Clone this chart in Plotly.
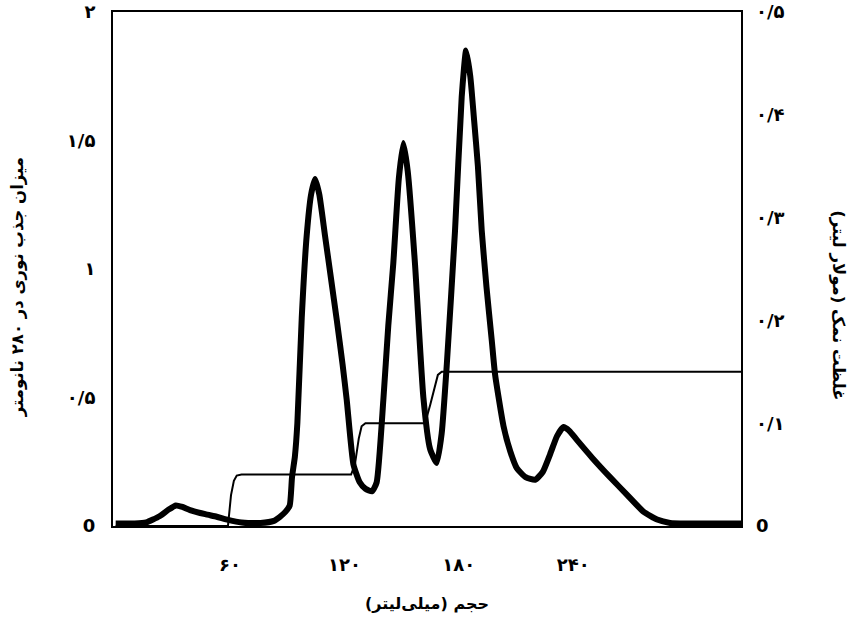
import plotly.graph_objects as go

# Absorbance at 280 nm (left axis) vs eluted volume (ml)
volume_ml = [0, 10, 16, 23, 28, 31.6, 35, 39, 47, 53, 59, 66, 76, 83, 86, 89, 91.3, 92.5, 94, 95.3,
             97.6, 100.2, 102.5, 104.6, 106.8, 109.8, 113, 116, 119, 121.2, 124.7, 128, 131, 134.5,
             136.9, 140.4, 143, 145.6, 148.5, 150.9, 153.2, 157, 161.4, 164.9, 168.4, 171, 173.7, 178,
             181.5, 183.8, 186, 188, 190, 192, 194.5, 197.3, 199, 203.4, 207, 210.4, 215, 220, 224,
             227.9, 231.5, 234.9, 238, 241.9, 250, 259.3, 268, 276.8, 284, 290.8, 300, 310, 328]
absorbance = [0.01, 0.01, 0.014, 0.038, 0.065, 0.08, 0.074, 0.062, 0.046, 0.036, 0.024, 0.014, 0.012,
              0.02, 0.035, 0.055, 0.08, 0.19, 0.27, 0.40, 0.81, 1.13, 1.29, 1.35, 1.29, 1.13, 0.96, 0.80,
              0.63, 0.49, 0.24, 0.17, 0.145, 0.135, 0.17, 0.49, 0.78, 1.02, 1.35, 1.49, 1.38, 1.02, 0.50,
              0.30, 0.245, 0.36, 0.63, 1.15, 1.67, 1.85, 1.75, 1.58, 1.40, 1.15, 0.93, 0.72, 0.59, 0.39,
              0.29, 0.225, 0.19, 0.18, 0.21, 0.28, 0.35, 0.385, 0.37, 0.335, 0.265, 0.19, 0.123, 0.056, 0.025,
              0.012, 0.01, 0.01, 0.01]

# Salt concentration (right axis), stepwise gradient
salt_volume_ml = [0, 58.9, 60.5, 62, 63.5, 66, 123.5, 125.5, 127.5, 129, 131, 162.3, 165, 167.5, 169, 171, 328]
salt_molar = [0, 0, 0.03, 0.044, 0.049, 0.05, 0.05, 0.06, 0.085, 0.097, 0.1, 0.1, 0.118, 0.138, 0.147, 0.15, 0.15]

x_tickvals = [60, 120, 180, 240]
x_ticktext = ['۶۰', '۱۲۰', '۱۸۰', '۲۴۰']
y_tickvals = [0, 0.5, 1, 1.5, 2]
y_ticktext = ['0', '۰/۵', '۱', '۱/۵', '۲']
y2_tickvals = [0, 0.1, 0.2, 0.3, 0.4, 0.5]
y2_ticktext = ['0', '۰/۱', '۰/۲', '۰/۳', '۰/۴', '۰/۵']

x_title = 'حجم (میلی‌لیتر)'
y_title = 'میزان جذب نوری در ۲۸۰ نانومتر'
y2_title = 'غلظت نمک (مولار لیتر)'

FONT = 'DejaVu Sans'

fig = go.Figure()
fig.add_trace(go.Scatter(x=volume_ml, y=absorbance, mode='lines',
                         line=dict(color='black', width=6, shape='spline', smoothing=0.5),
                         showlegend=False, hoverinfo='x+y'))
fig.add_trace(go.Scatter(x=salt_volume_ml, y=salt_molar, mode='lines', yaxis='y2',
                         line=dict(color='black', width=2),
                         showlegend=False, hoverinfo='x+y'))

fig.update_layout(
    width=855, height=621,
    paper_bgcolor='white', plot_bgcolor='white',
    margin=dict(l=113, r=114, t=12, b=95, autoexpand=False),
    font=dict(family=FONT, color='black', size=15),
    xaxis=dict(range=[-1.4, 328], tickvals=x_tickvals, ticktext=x_ticktext, automargin=False,
               showgrid=False, zeroline=False, showline=True, linecolor='black', linewidth=2,
               mirror=True, ticks='', ticklabelstandoff=21, ticklabeloverflow='allow',
               tickfont=dict(family=FONT, size=18, weight='bold'),
               title=dict(text=x_title, font=dict(family=FONT, size=16, weight='bold'), standoff=24)),
    yaxis=dict(range=[0, 2], tickvals=y_tickvals, ticktext=y_ticktext, automargin=False,
               showgrid=False, zeroline=False, showline=True, linecolor='black', linewidth=2,
               mirror=True, ticks='', ticklabelstandoff=12, ticklabeloverflow='allow',
               tickfont=dict(family=FONT, size=18, weight='bold')),
    yaxis2=dict(range=[0, 0.5], tickvals=y2_tickvals, ticktext=y2_ticktext, automargin=False,
                overlaying='y', side='right', anchor='x', ticklabeloverflow='allow',
                showgrid=False, zeroline=False, showline=False, ticks='', ticklabelstandoff=14,
                tickfont=dict(family=FONT, size=18, weight='bold')),
    annotations=[
        dict(text=y_title, xref='paper', yref='paper', x=-0.151, y=0.465, textangle=-90,
             showarrow=False, xanchor='center', yanchor='middle',
             font=dict(family=FONT, size=16.5, weight='bold')),
        dict(text=y2_title, xref='paper', yref='paper', x=1.154, y=0.43, textangle=90,
             showarrow=False, xanchor='center', yanchor='middle',
             font=dict(family=FONT, size=16.5, weight='bold')),
    ],
)

# remove the default page margin so the figure fills the window exactly
fig.write_html('out.html', config={'displayModeBar': False},
               post_script="document.body.style.margin='0';")
